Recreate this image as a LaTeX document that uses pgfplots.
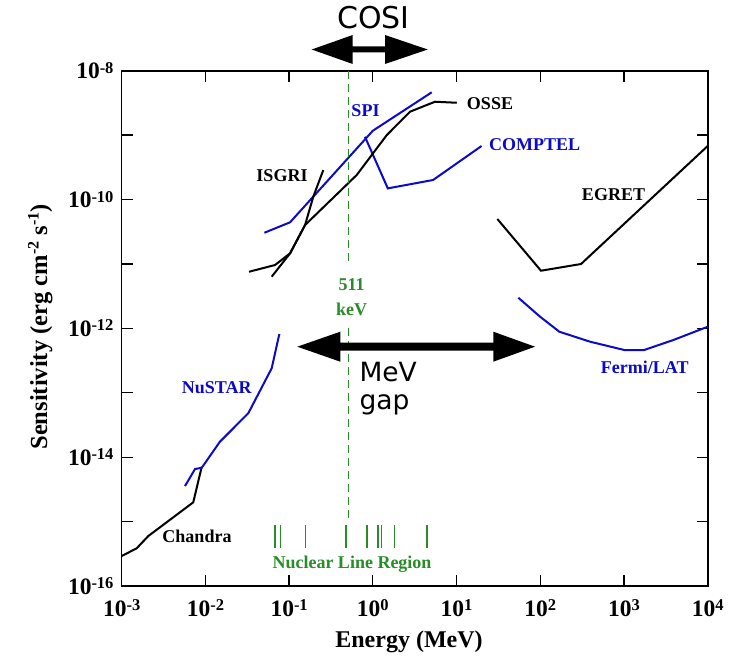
\documentclass[border=0pt]{standalone}
\usepackage{fontspec}
\setmainfont{Liberation Serif}
\newfontfamily\sans{DejaVu Sans}
\usepackage{pgfplots}
\pgfplotsset{compat=1.18}
\definecolor{myblue}{RGB}{10,10,200}
\definecolor{mygreen}{RGB}{40,140,40}
\newcommand\tl[1]{\textbf{10\raisebox{5.5pt}{\fontsize{16.5}{16.5}\selectfont\bfseries #1}}}
\newcommand\ysup[1]{\raisebox{8.5pt}{\fontsize{16}{16}\selectfont\bfseries #1}}
\begin{document}
\begin{tikzpicture}[x=1pt,y=1pt]
\useasboundingbox (0,0) rectangle (742,659);
\begin{axis}[
  at={(121.7pt,73pt)}, anchor=south west,
  scale only axis, width=586pt, height=515.3pt,
  xmode=log, ymode=log,
  xmin=1e-3, xmax=1e4, ymin=1e-16, ymax=1e-8,
  xtick={1e-3,1e-2,1e-1,1,1e1,1e2,1e3,1e4},
  xticklabels={\tl{-3},\tl{-2},\tl{-1},\tl{0},\tl{1},\tl{2},\tl{3},\tl{4}},
  ytick={1e-16,1e-15,1e-14,1e-13,1e-12,1e-11,1e-10,1e-9,1e-8},
  yticklabels={\tl{-16},{},\tl{-14},{},\tl{-12},{},\tl{-10},{},\tl{-8}},
  minor tick length=0pt,
  major tick length=11pt,
  tick style={black, line width=1.3pt},
  axis line style={line width=1.6pt},
  xticklabel style={font=\fontsize{23.5}{26}\selectfont, anchor=base, yshift=-30pt, inner sep=0pt},
  yticklabel style={font=\fontsize{23.5}{26}\selectfont, anchor=east, xshift=-8pt, inner sep=0pt},
  clip=false,
]
% Chandra
\addplot[black, line width=2pt] coordinates {(0.001,2.92e-16)(0.00151,3.85e-16)(0.00208,5.97e-16)(0.00716,1.99e-15)(0.00904,7.11e-15)};
% NuSTAR
\addplot[myblue, line width=2pt] coordinates {(0.0057,3.56e-15)(0.00752,6.55e-15)(0.00904,6.85e-15)(0.0149,1.74e-14)(0.0325,4.80e-14)(0.0619,2.40e-13)(0.0764,8.17e-13)};
% SPI
\addplot[myblue, line width=2pt] coordinates {(0.0506,3.05e-11)(0.1026,4.43e-11)(1.0,1.17e-9)(5.05,4.62e-9)};
% COMPTEL
\addplot[myblue, line width=2pt] coordinates {(0.805,9.44e-10)(1.51,1.49e-10)(5.24,2.01e-10)(19.9,6.78e-10)};
% OSSE
\addplot[black, line width=2pt] coordinates {(0.0332,7.57e-12)(0.0678,9.62e-12)(0.1026,1.46e-11)(0.155,4.02e-11)(0.641,2.40e-10)(1.466,1.00e-9)(2.78,2.31e-9)(5.53,3.30e-9)(10.05,3.18e-9)};
% ISGRI
\addplot[black, line width=2pt] coordinates {(0.0619,6.34e-12)(0.1026,1.46e-11)(0.155,4.02e-11)(0.1946,1.11e-10)(0.256,2.87e-10)};
% EGRET
\addplot[black, line width=2pt] coordinates {(30.7,4.99e-11)(102,7.85e-12)(307,9.98e-12)(1e4,6.78e-10)};
% Fermi/LAT
\addplot[myblue, line width=2pt] coordinates {(54.7,2.99e-12)(99.3,1.52e-12)(169,8.87e-13)(393,6.21e-13)(1010,4.61e-13)(1738,4.61e-13)(3884,6.59e-13)(1e4,1.06e-12)};
% 511 keV line
\addplot[mygreen, line width=1.5pt, dash pattern=on 8pt off 5pt] coordinates {(0.511,1e-8)(0.511,1.03e-11)};
\addplot[mygreen, line width=1.5pt, dash pattern=on 8pt off 5pt] coordinates {(0.511,1.01e-12)(0.511,9.6e-16)};
% nuclear lines
\addplot[mygreen, line width=1.4pt] coordinates {(0.0679,8.7e-16)(0.0679,3.85e-16)};
\addplot[mygreen, line width=1.4pt] coordinates {(0.0784,8.7e-16)(0.0784,3.85e-16)};
\addplot[mygreen, line width=1.4pt] coordinates {(0.158,8.7e-16)(0.158,3.85e-16)};
\addplot[mygreen, line width=1.4pt] coordinates {(0.478,8.7e-16)(0.478,3.85e-16)};
\addplot[mygreen, line width=1.4pt] coordinates {(0.847,8.7e-16)(0.847,3.85e-16)};
\addplot[mygreen, line width=1.4pt] coordinates {(1.157,8.7e-16)(1.157,3.85e-16)};
\addplot[mygreen, line width=1.4pt] coordinates {(1.275,8.7e-16)(1.275,3.85e-16)};
\addplot[mygreen, line width=1.4pt] coordinates {(1.809,8.7e-16)(1.809,3.85e-16)};
\addplot[mygreen, line width=1.4pt] coordinates {(4.438,8.7e-16)(4.438,3.85e-16)};
\end{axis}
\begin{scope}[x=1pt,y=-1pt,yshift=659pt]
\tikzset{lab/.style={anchor=base, inner sep=0pt, font=\fontsize{18}{20}\selectfont\bfseries}}
\node[lab] at (282,181.8) {ISGRI};
\node[lab, text=myblue] at (365.5,116.8) {SPI};
\node[lab] at (490,110) {OSSE};
\node[lab, text=myblue] at (534.7,150.8) {COMPTEL};
\node[lab] at (613.5,200.8) {EGRET};
\node[lab, text=myblue] at (216.7,394) {NuSTAR};
\node[lab, text=myblue] at (644.7,374) {Fermi/LAT};
\node[lab] at (197,543) {Chandra};
\node[lab, text=mygreen] at (352,568.8) {Nuclear Line Region};
\node[lab, text=mygreen] at (351.7,290.8) {511};
\node[lab, text=mygreen] at (351.7,315.8) {keV};
\node[anchor=base, inner sep=0pt, font=\sans\fontsize{30}{30}\selectfont] at (373.3,28.3) {COSI};
\node[anchor=base west, inner sep=0pt, font=\sans\fontsize{26.5}{30}\selectfont] at (359.3,381.7) {MeV};
\node[anchor=base west, inner sep=0pt, font=\sans\fontsize{26.5}{30}\selectfont] at (359.3,410) {gap};
\fill (311.7,49.5) -- (352.7,35) -- (352.7,46.5) -- (385,46.5) -- (385,35) -- (427.7,49.5) -- (385,64) -- (385,52.5) -- (352.7,52.5) -- (352.7,64) -- cycle;
\fill (297.3,346.7) -- (340.3,331.7) -- (340.3,342.7) -- (493.3,342.7) -- (493.3,331.7) -- (535,346.7) -- (493.3,361.7) -- (493.3,350.7) -- (340.3,350.7) -- (340.3,361.7) -- cycle;
\node[anchor=base, inner sep=0pt, font=\fontsize{24}{28}\selectfont\bfseries] at (409,647.3) {Energy (MeV)};
\node[rotate=90, anchor=base, inner sep=0pt, font=\fontsize{24.5}{28}\selectfont\bfseries] at (47,327) {Sensitivity (erg cm\ysup{-2} s\ysup{-1})};
\end{scope}
\end{tikzpicture}
\end{document}
